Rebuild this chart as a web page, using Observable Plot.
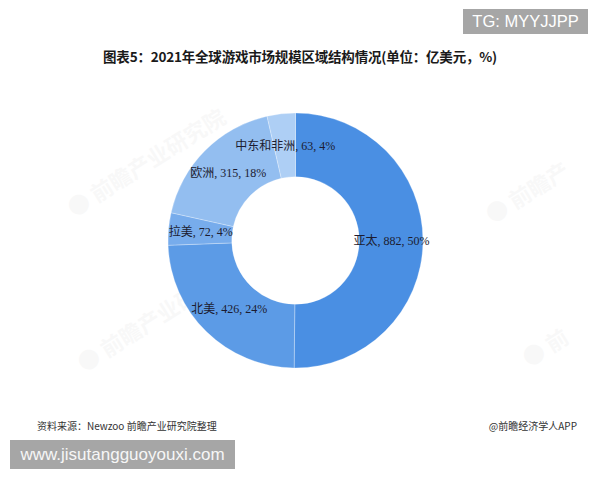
<!DOCTYPE html>
<html><head><meta charset="utf-8">
<script src="https://cdn.jsdelivr.net/npm/d3@7"></script>
<script src="https://cdn.jsdelivr.net/npm/@observablehq/plot@0.6"></script>
<style>
html,body{margin:0;padding:0;background:#fff;}
#wrap{position:relative;width:600px;height:480px;overflow:hidden;background:#fff;font-family:"Noto Sans CJK SC","Noto Sans",sans-serif;}
.tg{position:absolute;left:463px;top:9px;width:125px;height:25px;background:#a6a6a6;color:#fff;font-family:"Liberation Sans",Arial,sans-serif;font-size:16.5px;line-height:25px;text-align:center;}
.title{position:absolute;left:0;width:600px;top:47px;text-align:center;font-size:13.5px;font-weight:bold;color:#1a1a1a;line-height:18px;letter-spacing:-0.2px;}
#chart{position:absolute;left:0;top:90px;width:600px;height:300px;}
.src{position:absolute;left:37px;top:419px;font-size:10px;color:#333;line-height:14px;}
.app{position:absolute;right:23px;top:419px;font-size:10px;color:#333;line-height:14px;}
.www{position:absolute;left:10px;top:440px;width:225px;height:29px;background:#a6a6a6;color:#f6f6f6;font-family:"Liberation Sans",Arial,sans-serif;font-size:17px;line-height:29px;text-align:center;}
.wm{position:absolute;color:#000;opacity:0.022;font-size:22px;font-weight:bold;transform:rotate(-32deg);white-space:nowrap;}
</style>
</head><body>
<div id="wrap">
  <div class="wm" style="left:55px;top:145px;">● 前瞻产业研究院</div>
  <div class="wm" style="left:65px;top:300px;">● 前瞻产业研究院</div>
  <div class="wm" style="left:480px;top:175px;">● 前瞻产</div>
  <div class="wm" style="left:520px;top:330px;">● 前</div>
  <div class="tg">TG: MYYJJPP</div>
  <div class="title">图表5：2021年全球游戏市场规模区域结构情况(单位：亿美元，%)</div>
  <div id="chart"></div>
  <div class="src">资料来源：Newzoo 前瞻产业研究院整理</div>
  <div class="app">@前瞻经济学人APP</div>
  <div class="www">www.jisutangguoyouxi.com</div>
</div>
<script>
const regions = ["亚太", "北美", "拉美", "欧洲", "中东和非洲"];
const values = [882, 426, 72, 315, 63];
const shares = [50, 24, 4, 18, 4];
const colors = ["#4a8fe3", "#5c9be6", "#77acec", "#93bef0", "#aecff5"];

const data = regions.map((r, i) => ({region: r, value: values[i], share: shares[i], color: colors[i]}));
const arcs = d3.pie().sort(null).value(d => d.value)(data);
const inner = 0.5, outer = 1;
const labelR = (inner + outer) / 2;
const labels = arcs.map(a => {
  const mid = (a.startAngle + a.endAngle) / 2;
  return {x: labelR * Math.sin(mid), y: labelR * Math.cos(mid),
          text: `${a.data.region}, ${a.data.value}, ${a.data.share}%`};
});

const cx = 295.5, cy = 150.5, R = 127.5;

const donut = (index, scales) => {
  const x0 = scales.x(0), y0 = scales.y(0);
  const rPx = scales.x(1) - scales.x(0);
  const arc = d3.arc().innerRadius(rPx * inner).outerRadius(rPx * outer);
  const g = d3.create("svg:g").attr("transform", `translate(${x0},${y0})`);
  g.selectAll("path").data(arcs).join("path")
    .attr("d", arc)
    .attr("fill", d => d.data.color)
    .attr("stroke", "#ffffff")
    .attr("stroke-opacity", 0.35)
    .attr("stroke-width", 0.8);
  return g.node();
};

const chart = Plot.plot({
  width: 600,
  height: 300,
  margin: 0,
  x: {domain: [-1, 1], range: [cx - R, cx + R], axis: null},
  y: {domain: [-1, 1], range: [cy + R, cy - R], axis: null},
  style: {background: "transparent", overflow: "visible"},
  marks: [
    donut,
    Plot.text(labels, {
      x: "x", y: "y", text: "text",
      fontSize: 12,
      fill: "#1c1c30",
      fontFamily: "'Liberation Serif','Noto Sans CJK SC',serif"
    })
  ]
});
document.getElementById("chart").appendChild(chart);
</script>
</body></html>
